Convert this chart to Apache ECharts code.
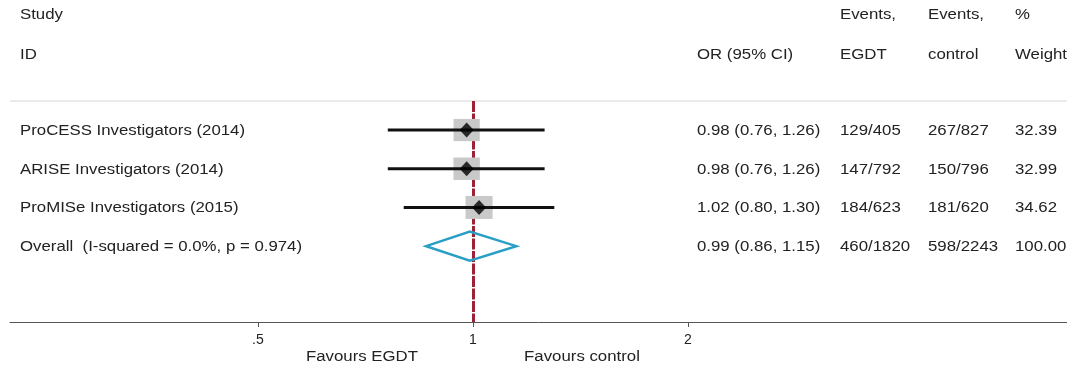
<!DOCTYPE html>
<html>
<head>
<meta charset="utf-8">
<style>
  html, body { margin: 0; padding: 0; background: #fff; }
  #chart { width: 1067px; height: 365px; }
</style>
<script src="https://cdn.jsdelivr.net/npm/echarts@6/dist/echarts.min.js"></script>
</head>
<body>
<div id="chart"></div>
<script>
// Trials and the pooled estimate (odds ratios, EGDT vs control)
const studies = [
  'ProCESS Investigators (2014)',
  'ARISE Investigators (2014)',
  'ProMISe Investigators (2015)',
  'Overall  (I-squared = 0.0%, p = 0.974)'
];
const oddsRatio = [0.98, 0.98, 1.02, 0.99];
const ciLow = [0.76, 0.76, 0.80, 0.86];
const ciHigh = [1.26, 1.26, 1.30, 1.15];
const eventsEGDT = ['129/405', '147/792', '184/623', '460/1820'];
const eventsControl = ['267/827', '150/796', '181/620', '598/2243'];
const weights = [32.39, 32.99, 34.62, 100.00];
const isOverall = [false, false, false, true];

// Odds-ratio axis ticks
const tickValues = [0.5, 1, 2];
const tickLabels = ['.5', '1', '2'];

const FONT = '"Liberation Sans", Arial, sans-serif';
const TXT = '#222';
const FS = 14;
const SX = 1.2;   // slightly wide lettering

const log2 = v => Math.log2(v);
const rows = studies.map((s, i) => i);

const studyRows = rows.filter(i => !isOverall[i]);
const overallRows = rows.filter(i => isOverall[i]);

function orText(i) {
  return oddsRatio[i].toFixed(2) + ' (' + ciLow[i].toFixed(2) + ', ' + ciHigh[i].toFixed(2) + ')';
}

function wideText(x, y, text, align) {
  return {
    type: 'text', x: x, y: y, scaleX: SX,
    style: { text: text, fill: TXT, font: FS + 'px ' + FONT,
             align: align || 'left', verticalAlign: 'middle' }
  };
}

const chart = echarts.init(document.getElementById('chart'), null, { renderer: 'canvas' });

chart.setOption({
  animation: false,
  backgroundColor: '#fff',
  grid: { left: 10, right: 0, top: 101, bottom: 43 },
  xAxis: {
    type: 'value',
    min: -2.153,
    max: 2.763,
    splitLine: { show: false },
    axisLine: { show: true, onZero: false, lineStyle: { color: '#555', width: 1 } },
    axisTick: {
      show: true, length: 5, lineStyle: { color: '#555' },
      customValues: tickValues.map(log2)
    },
    axisLabel: {
      show: true, margin: 11, color: TXT, fontSize: FS, fontFamily: FONT,
      customValues: tickValues.map(log2),
      formatter: v => {
        const k = tickValues.findIndex(t => Math.abs(log2(t) - v) < 1e-6);
        return k >= 0 ? tickLabels[k] : '';
      }
    }
  },
  yAxis: {
    type: 'value', inverse: true, min: -0.75, max: 4.96, show: false
  },
  graphic: [
    // header rule
    { type: 'line', shape: { x1: 10, y1: 101, x2: 1067, y2: 101 }, style: { stroke: '#d6d6d6', lineWidth: 1 } },
    wideText(20, 15, 'Study'),
    wideText(20, 55, 'ID'),
    wideText(697, 55, 'OR (95% CI)'),
    wideText(840, 15, 'Events,'),
    wideText(840, 55, 'EGDT'),
    wideText(928, 15, 'Events,'),
    wideText(928, 55, 'control'),
    wideText(1015, 15, '%'),
    wideText(1015, 55, 'Weight'),
    wideText(362, 357, 'Favours EGDT', 'center'),
    wideText(582, 357, 'Favours control', 'center')
  ],
  series: [
    // weight boxes
    {
      type: 'custom', z: 2,
      data: studyRows.map(i => [log2(oddsRatio[i]), i, weights[i]]),
      renderItem: (params, api) => {
        const c = api.coord([api.value(0), api.value(1)]);
        const w = 4.6 * Math.sqrt(api.value(2));
        const h = w * 0.85;
        return { type: 'rect', shape: { x: c[0] - w / 2, y: c[1] - h / 2, width: w, height: h },
                 style: { fill: '#c9c9c9' } };
      },
      markLine: {
        silent: true, symbol: 'none', z: 1,
        label: { show: false },
        lineStyle: { color: '#9c2236', width: 3, type: [11, 1.5] },
        data: [{ xAxis: 0 }]
      }
    },
    // confidence intervals
    {
      type: 'custom', z: 3,
      data: studyRows.map(i => [log2(ciLow[i]), log2(ciHigh[i]), i]),
      renderItem: (params, api) => {
        const a = api.coord([api.value(0), api.value(2)]);
        const b = api.coord([api.value(1), api.value(2)]);
        return { type: 'line', shape: { x1: a[0], y1: a[1], x2: b[0], y2: b[1] },
                 style: { stroke: '#111', lineWidth: 3 } };
      }
    },
    // point estimates
    {
      type: 'scatter', z: 4,
      symbol: 'diamond', symbolSize: [14, 15],
      itemStyle: { color: '#000' },
      data: studyRows.map(i => [log2(oddsRatio[i]), i])
    },
    // pooled estimate diamond
    {
      type: 'custom', z: 4,
      data: overallRows.map(i => [log2(ciLow[i]), log2(oddsRatio[i]), log2(ciHigh[i]), i]),
      renderItem: (params, api) => {
        const r = api.value(3);
        const l = api.coord([api.value(0), r]);
        const m = api.coord([api.value(1), r]);
        const h = api.coord([api.value(2), r]);
        const half = 14.5;
        return { type: 'polygon',
                 shape: { points: [[l[0], l[1]], [m[0], m[1] - half], [h[0], h[1]], [m[0], m[1] + half]] },
                 style: { fill: 'none', stroke: '#2a9fc6', lineWidth: 2.5 } };
      }
    },
    // table text per row
    {
      type: 'custom', z: 5,
      data: rows.map(i => [0, i]),
      renderItem: (params, api) => {
        const i = params.dataIndex;
        const y = api.coord([0, api.value(1)])[1] + 1;
        const cells = [
          [20, studies[i]], [697, orText(i)], [840, eventsEGDT[i]],
          [928, eventsControl[i]], [1015, weights[i].toFixed(2)]
        ];
        return {
          type: 'group',
          children: cells.map(c => wideText(c[0], y, c[1]))
        };
      }
    }
  ]
});
</script>
</body>
</html>
